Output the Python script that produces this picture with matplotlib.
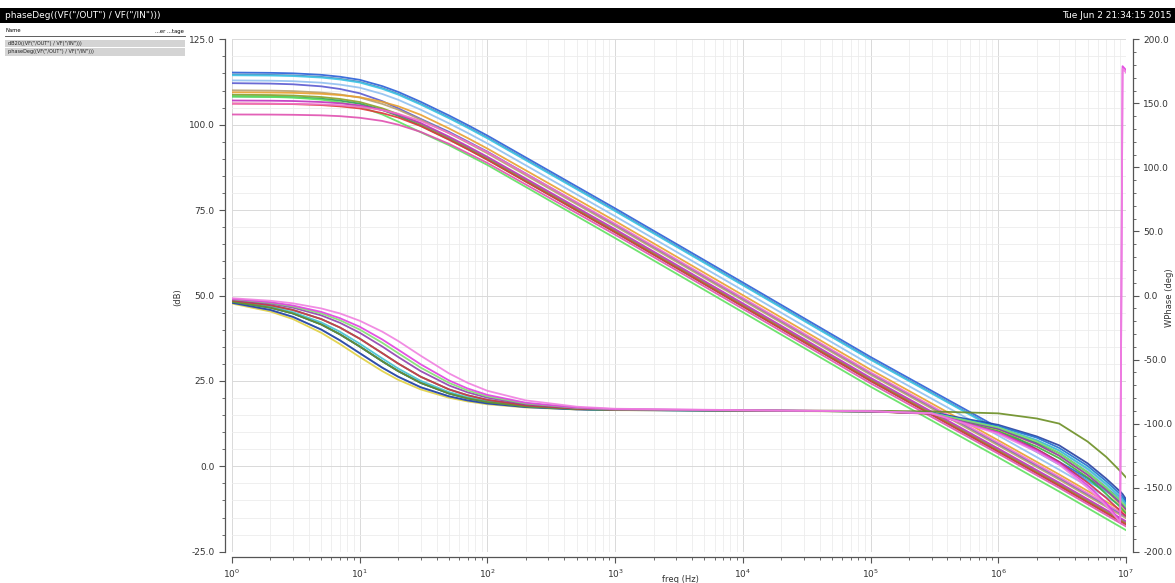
import matplotlib
matplotlib.use("Agg")
import matplotlib.pyplot as plt
from matplotlib.patches import Rectangle
from matplotlib.ticker import LogLocator, MultipleLocator, NullFormatter, FormatStrFormatter

W, H = 1175, 583

# ---- magnitude (dB20) curves, one per corner ----
mag_freq = [1, 2, 3, 5, 7, 10, 15, 20, 30, 50, 70, 100, 1e3, 1e4, 1e5, 1e6, 3e6, 1e7]
mag_curves = [
    ("#2a5fd8", [115.27, 115.18, 115.04, 114.6, 114.04, 113.14, 111.3, 109.6, 106.7, 102.7, 99.9, 96.8, 75.5, 53.8, 32.0, 11.3, 1.3, -10.0]),
    ("#4682b4", [114.67, 114.58, 114.44, 114.0, 113.44, 112.54, 110.7, 109.0, 106.1, 102.1, 99.3, 96.2, 74.9, 53.2, 31.4, 10.7, 0.7, -10.6]),
    ("#40c8e8", [114.47, 114.38, 114.24, 113.8, 113.24, 112.34, 110.5, 108.8, 105.9, 101.9, 99.1, 96.0, 74.7, 53.0, 31.2, 10.5, 0.5, -10.8]),
    ("#90c0f0", [112.97, 112.88, 112.74, 112.3, 111.74, 110.84, 109.0, 107.3, 104.4, 100.4, 97.6, 94.5, 73.2, 51.5, 29.7, 9.0, -1.0, -12.3]),
    ("#5a5ad0", [112.16, 112.03, 111.83, 111.23, 110.46, 109.2, 106.9, 104.8, 101.7, 97.9, 95.1, 92.1, 70.7, 49.0, 27.2, 6.5, -3.5, -14.8]),
    ("#b8a070", [110.07, 109.98, 109.84, 109.4, 108.84, 107.94, 106.1, 104.4, 101.5, 97.5, 94.7, 91.6, 70.3, 48.6, 26.8, 6.1, -3.9, -15.2]),
    ("#e8a030", [109.48, 109.42, 109.33, 109.04, 108.67, 108.06, 106.7, 105.4, 102.9, 98.9, 96.1, 93.0, 71.8, 50.1, 28.3, 7.6, -2.4, -13.7]),
    ("#88a028", [108.77, 108.68, 108.54, 108.1, 107.54, 106.64, 104.8, 103.1, 100.2, 96.2, 93.4, 90.3, 69.0, 47.3, 25.5, 4.8, -5.2, -16.5]),
    ("#30a050", [108.27, 108.18, 108.04, 107.6, 107.04, 106.14, 104.3, 102.6, 99.7, 95.7, 92.9, 89.8, 68.5, 46.8, 25.0, 4.3, -5.7, -17.0]),
    ("#60e060", [108.26, 108.13, 107.93, 107.33, 106.56, 105.3, 103.0, 100.9, 97.8, 94.0, 91.2, 88.2, 66.8, 45.1, 23.3, 2.6, -7.4, -18.7]),
    ("#c030c0", [107.08, 107.02, 106.93, 106.64, 106.27, 105.66, 104.3, 103.0, 100.5, 96.5, 93.7, 90.6, 69.4, 47.7, 25.9, 5.2, -4.8, -16.1]),
    ("#e03838", [106.18, 106.12, 106.03, 105.74, 105.37, 104.76, 103.4, 102.1, 99.6, 95.6, 92.8, 89.7, 68.5, 46.8, 25.0, 4.3, -5.7, -17.0]),
    ("#f070c8", [106.19, 106.16, 106.1, 105.94, 105.7, 105.23, 104.3, 103.2, 101.1, 97.6, 94.9, 92.0, 71.0, 49.3, 27.5, 6.9, -3.1, -14.4]),
    ("#e050b0", [102.99, 102.96, 102.9, 102.74, 102.5, 102.03, 101.1, 100.0, 97.9, 94.4, 91.7, 88.8, 67.8, 46.1, 24.3, 3.7, -6.3, -17.6]),
]

# ---- phase (deg) curves ----
ph_freq = [1, 2, 3, 5, 7, 10, 15, 20, 30, 50, 70, 100, 200, 500, 1e3, 1e4, 1e5, 3e5,
           1e6, 2e6, 3e6, 5e6, 7e6, 9e6, 9.4e6, 1e7]
ph_curves = [
    ("#e0d040", [-6.3, -12.5, -18.4, -29.1, -37.9, -48.0, -59.0, -65.8, -73.3, -79.8, -82.7, -84.9, -87.4, -89.0, -89.5, -90.0, -90.6, -92.0, -105, -116, -125, -140, -152, -163, -165, -168]),
    ("#80b8f0", [-5.7, -11.3, -16.7, -26.6, -35.0, -45.0, -56.3, -63.4, -71.6, -78.7, -81.9, -84.3, -87.1, -88.9, -89.4, -89.9, -90.5, -91.8, -103, -113, -121, -136, -148, -158, -160, -164]),
    ("#2840a0", [-5.7, -11.3, -16.7, -26.6, -35.0, -45.0, -56.3, -63.4, -71.6, -78.7, -81.9, -84.3, -87.1, -88.9, -89.4, -89.9, -90.4, -91.3, -101, -110, -117, -131, -143, -153, -155, -159]),
    ("#209060", [-4.8, -9.5, -14.0, -22.6, -30.3, -39.8, -51.3, -59.0, -68.2, -76.5, -80.3, -83.2, -86.6, -88.6, -89.3, -89.8, -90.5, -92.0, -104, -115, -123, -138, -150, -161, -163, -166]),
    ("#2070d0", [-4.8, -9.5, -14.0, -22.6, -30.3, -39.8, -51.3, -59.0, -68.2, -76.5, -80.3, -83.2, -86.6, -88.6, -89.3, -89.8, -90.4, -91.5, -102, -111, -119, -133, -145, -155, -157, -161]),
    ("#40c0d0", [-4.4, -8.8, -13.0, -21.0, -28.3, -37.6, -49.1, -57.0, -66.6, -75.4, -79.5, -82.6, -86.3, -88.5, -89.3, -89.8, -90.4, -91.8, -103, -113, -121, -135, -147, -157, -159, -163]),
    ("#40b040", [-3.8, -7.6, -11.3, -18.4, -25.0, -33.7, -45.0, -53.1, -63.4, -73.3, -77.9, -81.5, -85.7, -88.3, -89.1, -89.8, -90.5, -92.2, -106, -118, -127, -142, -155, -165, -167, -170]),
    ("#6b8e23", [-4.8, -9.5, -14.0, -22.6, -30.3, -39.8, -51.3, -59.0, -68.2, -76.5, -80.3, -83.2, -86.6, -88.6, -89.3, -89.7, -90.0, -90.5, -92, -96, -100, -114, -126, -137, -139, -142]),
    ("#d03050", [-3.8, -7.6, -11.3, -18.4, -25.0, -33.7, -45.0, -53.1, -63.4, -73.3, -77.9, -81.5, -85.7, -88.3, -89.1, -89.8, -90.5, -92.4, -107, -120, -130, -146, -158, -168, -170, -172]),
    ("#9040b0", [-3.2, -6.3, -9.5, -15.5, -21.3, -29.1, -39.8, -48.0, -59.0, -70.2, -75.6, -79.8, -84.9, -87.9, -89.0, -89.7, -90.4, -92.0, -104, -116, -125, -140, -152, -162, -164, -167]),
    ("#80e070", [-2.9, -5.7, -8.5, -14.0, -19.3, -26.6, -36.9, -45.0, -56.3, -68.2, -74.1, -78.7, -84.3, -87.7, -88.9, -89.7, -90.4, -91.8, -103, -114, -123, -138, -150, -160, -162, -165]),
    ("#e040e0", [-2.6, -5.2, -7.8, -12.8, -17.7, -24.4, -34.3, -42.3, -53.7, -66.3, -72.6, -77.6, -83.7, -87.5, -88.7, -89.6, -90.4, -92.0, -107, -121, -131, -148, -162, -176, 179, 176]),
    ("#f080e0", [-2.1, -4.1, -6.1, -10.1, -14.0, -19.7, -28.2, -35.5, -47.0, -60.8, -68.2, -74.4, -81.9, -86.8, -88.4, -89.5, -90.3, -92.0, -108, -122, -132, -150, -164, -177, 177, 174]),
]

header_left = 'phaseDeg((VF("/OUT") / VF("/IN")))'
header_right = "Tue Jun 2 21:34:15 2015"
trace_names = ['dB20((VF("/OUT") / VF("/IN")))', 'phaseDeg((VF("/OUT") / VF("/IN")))']


def fx(x):
    return x / W


def fy(y):
    return 1 - y / H


fig = plt.figure(figsize=(W / 100, H / 100), dpi=100)
fig.patch.set_facecolor("white")

# black title bar
fig.patches.append(Rectangle((0, fy(23)), 1, 15 / H, transform=fig.transFigure,
                             facecolor="black", edgecolor="none"))
fig.text(fx(5), fy(15.5), header_left, color="white", fontsize=6.5, va="center", ha="left")
fig.text(fx(1172), fy(15.5), header_right, color="white", fontsize=6.5, va="center", ha="right")

# trace list panel
fig.text(fx(6), fy(31), "Name", fontsize=3.8, va="center")
fig.text(fx(184), fy(31), "...er ...tage", fontsize=3.8, va="center", ha="right")
fig.add_artist(plt.Line2D([fx(5), fx(185)], [fy(35.5), fy(35.5)], transform=fig.transFigure,
                          color="#444444", lw=0.6))
for i, name in enumerate(trace_names):
    yc = 43.5 + i * 8.5
    fig.patches.append(Rectangle((fx(5), fy(yc + 3.7)), fx(180), 7.4 / H,
                                 transform=fig.transFigure, facecolor="#d4d4d4", edgecolor="none"))
    fig.text(fx(8), fy(yc), name, fontsize=3.6, va="center", color="#222222")

# main axes
left, right, top, bottom = 232, 1126, 39.3, 551.7
ax = fig.add_axes([fx(left), fy(bottom), (right - left) / W, (bottom - top) / H])
ax2 = ax.twinx()

for color, vals in mag_curves:
    ax.plot(mag_freq, vals, color=color, lw=1.3, alpha=0.9)
for color, vals in ph_curves:
    ax2.plot(ph_freq, vals, color=color, lw=1.3, alpha=0.9)

ax.set_xscale("log")
ax.set_xlim(1, 1e7)
ax.set_ylim(-25, 125)
ax2.set_ylim(-200, 200)

ax.xaxis.set_major_locator(LogLocator(base=10, numticks=10))
ax.xaxis.set_minor_locator(LogLocator(base=10, subs=range(2, 10), numticks=20))
ax.xaxis.set_minor_formatter(NullFormatter())
ax.yaxis.set_major_locator(MultipleLocator(25))
ax.yaxis.set_minor_locator(MultipleLocator(5))
ax.yaxis.set_major_formatter(FormatStrFormatter("%.1f"))
ax2.yaxis.set_major_locator(MultipleLocator(50))
ax2.yaxis.set_minor_locator(MultipleLocator(10))
ax2.yaxis.set_major_formatter(FormatStrFormatter("%.1f"))

ax.grid(which="major", color="#d9d9d9", lw=0.7)
ax.grid(which="minor", color="#ececec", lw=0.6)
ax.set_axisbelow(True)

for a in (ax, ax2):
    for s in a.spines.values():
        s.set_visible(False)
    a.tick_params(which="both", colors="#555555", labelcolor="#333333", labelsize=6.5, direction="out")
    a.tick_params(which="major", length=4, width=0.8)
    a.tick_params(which="minor", length=2.5, width=0.6)

ax.spines["left"].set_visible(True)
ax.spines["left"].set_position(("outward", 5))
ax.spines["bottom"].set_visible(True)
ax.spines["bottom"].set_position(("outward", 4))
ax2.spines["right"].set_visible(True)
ax2.spines["right"].set_position(("outward", 5))
for s in (ax.spines["left"], ax.spines["bottom"], ax2.spines["right"]):
    s.set_color("#555555")
    s.set_linewidth(0.9)

fig.text(fx(178), fy(297), "(dB)", fontsize=6, rotation=90, va="center", ha="center", color="#333333")
fig.text(fx(1170), fy(298), "WPhase (deg)", fontsize=6, rotation=90, va="center", ha="center", color="#333333")
fig.text(fx(680), fy(579), "freq (Hz)", fontsize=6, va="center", ha="center", color="#333333")

fig.savefig("out.png", dpi=100)
